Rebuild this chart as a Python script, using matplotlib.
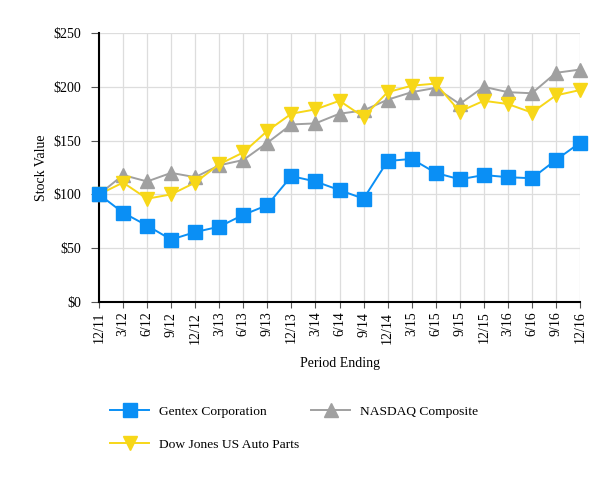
import matplotlib
matplotlib.use("Agg")
import matplotlib.pyplot as plt
from matplotlib.ticker import FuncFormatter, MultipleLocator

periods = ["12/11", "3/12", "6/12", "9/12", "12/12", "3/13", "6/13", "9/13", "12/13",
           "3/14", "6/14", "9/14", "12/14", "3/15", "6/15", "9/15", "12/15", "3/16",
           "6/16", "9/16", "12/16"]
gentex = [100, 83, 71, 58, 65, 70, 81, 90, 117, 112, 104, 96, 131, 133, 120, 114, 118, 116, 115, 132, 148]
nasdaq = [100, 118, 112, 120, 116, 127, 132, 148, 165, 166, 175, 178, 188, 195, 199, 184, 200, 195, 194, 213, 216]
dowjones = [100, 111, 96, 100, 111, 128, 139, 159, 175, 179, 187, 172, 195, 201, 203, 177, 187, 184, 176, 192, 197]

plt.rcParams['font.family'] = ['Liberation Serif', 'DejaVu Serif']

fig = plt.figure(figsize=(6.13, 4.8), dpi=100)
ax = fig.add_axes([99/613, 1-302/480, (580-99)/613, (302-33)/480])

x = list(range(len(periods)))
l1, = ax.plot(x, gentex, color='#0a8ff5', lw=1.4, marker='s', markersize=9.5,
              markeredgecolor='#0a8ff5', label='Gentex Corporation', zorder=5, clip_on=False)
l2, = ax.plot(x, nasdaq, color='#a0a0a0', lw=1.4, marker='^', markersize=9.5,
              markeredgecolor='#a0a0a0', label='NASDAQ Composite', zorder=3, clip_on=False)
l3, = ax.plot(x, dowjones, color='#f7d718', lw=1.4, marker='v', markersize=9.5,
              markeredgecolor='#f7d718', label='Dow Jones US Auto Parts', zorder=4, clip_on=False)

ax.set_xlim(0, len(periods)-1)
ax.set_ylim(0, 250)
ax.yaxis.set_major_locator(MultipleLocator(50))
ax.yaxis.set_major_formatter(FuncFormatter(lambda v, p: f"${int(v)}"))
ax.set_xticks(x)
ax.set_xticklabels(periods, rotation=90, fontsize=10)
ax.tick_params(axis='y', labelsize=10, length=6, width=0.8, color='#555555', pad=7)
ax.tick_params(axis='x', length=4, width=0.8, color='#555555', pad=3)
ax.grid(True, color='#dddddd', lw=0.9)
ax.set_axisbelow(True)
for s in ['top', 'right']:
    ax.spines[s].set_visible(False)
ax.spines['left'].set_linewidth(1.5)
ax.spines['bottom'].set_linewidth(1.5)

ax.set_ylabel("Stock Value", fontsize=10, labelpad=4)
ax.set_xlabel("Period Ending", fontsize=10, labelpad=10)

fig.legend(handles=[l1, l3, l2], loc='upper left', bbox_to_anchor=(98/613, 1-393/480),
           ncol=2, frameon=False, fontsize=9.7, handlelength=2.9, columnspacing=0.9,
           labelspacing=1.55, handletextpad=0.7)

fig.savefig("out.png", dpi=100)
